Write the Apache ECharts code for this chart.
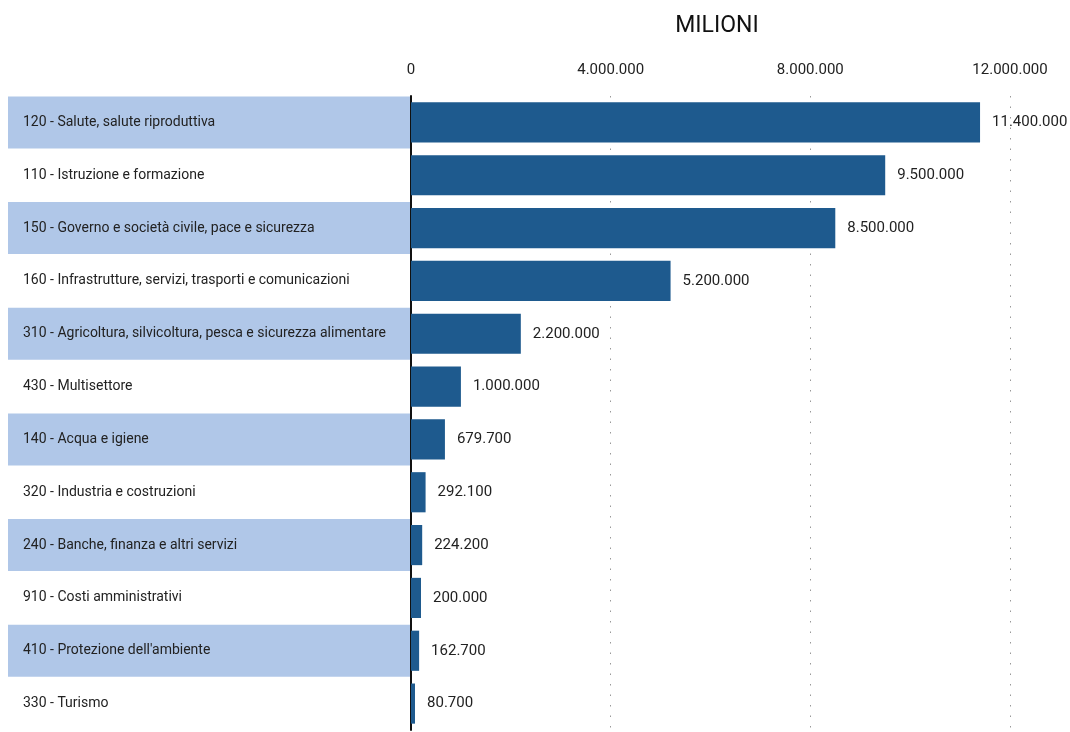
<!DOCTYPE html>
<html><head><meta charset="utf-8">
<script src="https://cdn.jsdelivr.net/npm/echarts@6/dist/echarts.min.js"></script>
<style>html,body{margin:0;padding:0;background:#fff}#c{width:1070px;height:732px}</style>
</head><body><div id="c"></div>
<script>
const categories = [
  "120 - Salute, salute riproduttiva",
  "110 - Istruzione e formazione",
  "150 - Governo e società civile, pace e sicurezza",
  "160 - Infrastrutture, servizi, trasporti e comunicazioni",
  "310 - Agricoltura, silvicoltura, pesca e sicurezza alimentare",
  "430 - Multisettore",
  "140 - Acqua e igiene",
  "320 - Industria e costruzioni",
  "240 - Banche, finanza e altri servizi",
  "910 - Costi amministrativi",
  "410 - Protezione dell'ambiente",
  "330 - Turismo"
];
const values = [11400000, 9500000, 8500000, 5200000, 2200000, 1000000, 679700, 292100, 224200, 200000, 162700, 80700];
const axisTicks = [0, 4000000, 8000000, 12000000];
const titleText = "MILIONI";

const FONT = 'Roboto, sans-serif';
function fmt(v){ return String(Math.round(v)).replace(/\B(?=(\d{3})+(?!\d))/g, '.'); }

const chart = echarts.init(document.getElementById('c'));
chart.setOption({
  animation: false,
  title: { text: titleText, left: 712, top: 10, textAlign: 'center',
    textStyle: { fontFamily: FONT, fontSize: 23, fontWeight: 'normal', color: '#111' } },
  grid: { left: 411, right: 60, top: 96, bottom: 2, containLabel: false },
  xAxis: {
    type: 'value', position: 'top', min: axisTicks[0], max: axisTicks[axisTicks.length-1], interval: 4000000,
    axisLine: { show: false }, axisTick: { show: false },
    axisLabel: { formatter: v => fmt(v), fontFamily: FONT, fontSize: 15, color: '#222', margin: 18 },
    splitLine: { show: true, lineStyle: { color: '#999', width: 1, type: [1.5, 9] } }
  },
  yAxis: {
    type: 'category', inverse: true, data: categories,
    axisLine: { show: true, lineStyle: { color: '#111', width: 2 } },
    axisTick: { show: false },
    axisLabel: {
      margin: 1,
      formatter: (v, i) => (i % 2 === 0 ? '{a|' : '{b|') + v + '}',
      rich: {
        a: { width: 387, height: 52, lineHeight: 52, padding: [0,0,0,15], backgroundColor: '#b0c7e8', align: 'left', fontFamily: FONT, fontSize: 14, color: '#222' },
        b: { width: 387, height: 52, lineHeight: 52, padding: [0,0,0,15], align: 'left', fontFamily: FONT, fontSize: 14, color: '#222' }
      }
    }
  },
  series: [{
    type: 'bar', data: values, barCategoryGap: '24%',
    itemStyle: { color: '#1e5a8e' },
    label: { show: true, position: 'right', distance: 12, formatter: p => fmt(p.value), fontFamily: FONT, fontSize: 15, color: '#222' }
  }]
});
</script></body></html>
